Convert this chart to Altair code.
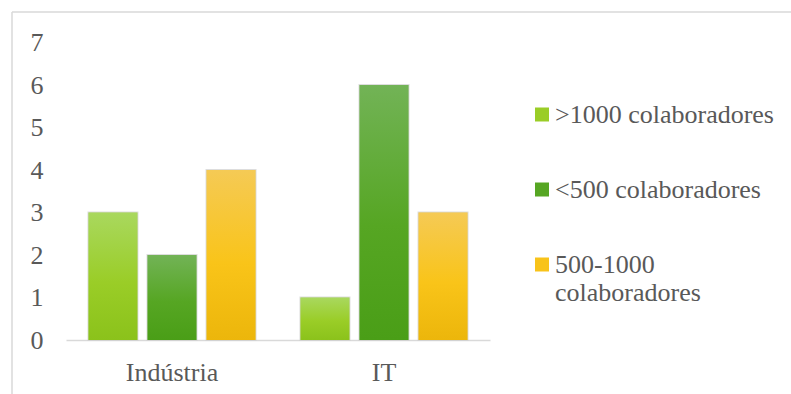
import altair as alt
import pandas as pd

# ---- data ----
categories = ['Indústria', 'IT']
series = ['>1000 colaboradores', '<500 colaboradores', '500-1000 colaboradores']
values_gt1000 = [3, 1]
values_lt500 = [2, 6]
values_500_1000 = [4, 3]
y_ticks = [0, 1, 2, 3, 4, 5, 6, 7]

mid_colors = ['#9ACD27', '#56A623', '#F8C31A']
grad_stops = [
    ['#A9D85E', '#9ACD27', '#8BC21B'],
    ['#72B356', '#56A623', '#4A9E17'],
    ['#F5CA55', '#F9C419', '#ECB60B'],
]

rows = []
for s, vals in zip(series, [values_gt1000, values_lt500, values_500_1000]):
    for c, v in zip(categories, vals):
        rows.append({'categoria': c, 'serie': s, 'valor': v})
df = pd.DataFrame(rows)

FONT = 'Liberation Serif'
TXT = '#595959'
FS = 26

x_enc = alt.X('categoria:N', sort=categories,
              scale=alt.Scale(domain=categories, paddingInner=0.212, paddingOuter=0.106),
              axis=alt.Axis(title=None, labelAngle=0, domainColor='#d9d9d9', domainWidth=1.5,
                            ticks=False, tickSize=0, labelPadding=19, labelFontSize=FS,
                            labelColor=TXT, labelFont=FONT))
xo_enc = alt.XOffset('serie:N', sort=series,
                     scale=alt.Scale(domain=series, paddingInner=0.17, paddingOuter=0))
y_enc = alt.Y('valor:Q', scale=alt.Scale(domain=[0, 7], nice=False),
              axis=alt.Axis(title=None, values=y_ticks, grid=False, domain=False, ticks=False,
                            tickSize=0, labelPadding=23, labelFontSize=FS, labelColor=TXT,
                            labelFont=FONT))

base = alt.Chart(df).mark_bar(stroke='#cfcfcf', strokeWidth=2, strokeOpacity=0.7).encode(
    x=x_enc, xOffset=xo_enc, y=y_enc,
    fill=alt.Fill('serie:N', sort=series,
                  scale=alt.Scale(domain=series, range=mid_colors),
                  legend=alt.Legend(
                      orient='none', legendX=463, legendY=59, title=None,
                      symbolType='square', symbolSize=196, symbolStrokeWidth=0,
                      symbolOpacity=1,
                      labelFontSize=FS, labelFont=FONT, labelColor=TXT,
                      rowPadding=49, labelOffset=0, padding=0, labelLimit=400,
                      labelExpr="datum.label == '500-1000 colaboradores' ? ['500-1000', 'colaboradores'] : datum.label")),
)

layers = [base]
for s, stops in zip(series, grad_stops):
    g = alt.Gradient(gradient='linear',
                     stops=[alt.GradientStop(color=stops[0], offset=0),
                            alt.GradientStop(color=stops[1], offset=0.55),
                            alt.GradientStop(color=stops[2], offset=1)],
                     x1=0, x2=0, y1=0, y2=1)
    layers.append(
        alt.Chart(df).transform_filter(alt.datum.serie == s).mark_bar(fill=g).encode(
            x=x_enc, xOffset=xo_enc, y=y_enc)
    )

frame = alt.Chart(pd.DataFrame({'k': [0]})).mark_rule(color='#d9d9d9', strokeWidth=1.5)
top_line = frame.encode(x=alt.value(-54), x2=alt.value(725), y=alt.value(-30.5))
left_line = frame.encode(x=alt.value(-54), y=alt.value(-30.5), y2=alt.value(352))

chart = alt.layer(top_line, left_line, *layers).properties(
    width=424, height=297.5,
    autosize=alt.AutoSizeParams(type='none'),
    padding={'left': 66, 'top': 42.5, 'right': 301, 'bottom': 54},
    background='white',
).configure(font=FONT).configure_view(strokeWidth=0, stroke='transparent') \
 .configure_legend(labelFont=FONT).configure_axis(labelFont=FONT)

chart.save('out.html', embed_options={'renderer': 'svg', 'actions': False})
